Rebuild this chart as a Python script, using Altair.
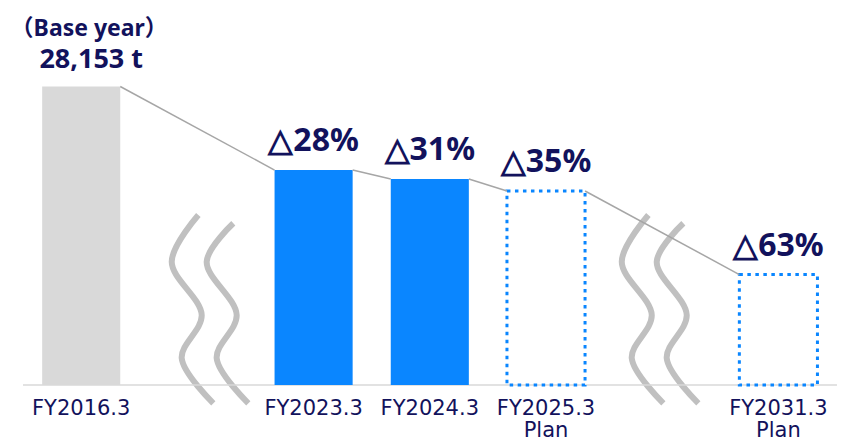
import altair as alt
import pandas as pd

# ---- data ----
categories = ["FY2016.3", "FY2023.3", "FY2024.3", "FY2025.3", "FY2031.3"]
sublabels = ["", "", "", "Plan", "Plan"]
positions = [0, 2, 3, 4, 6]            # gaps at 1 and 5 carry the break marks
emissions = [28153, 20270, 19426, 18299, 10417]
reduction_labels = ["", "△28%", "△31%", "△35%", "△63%"]
status = ["base", "actual", "actual", "plan", "plan"]

base_title = "（Base year）"
base_value = "28,153 t"

# break-mark ("≈") decoration: two wavy strands per break
break_positions = [1.0, 4.873]
strand_offsets = [0.0, 0.301]
strand_top = [16033, 15250]
squiggle_dx = [0.008, -0.221, 0.037, -0.135, 0.137]
squiggle_y = [16033, 11628, 6602, 2518, -1726]

HALF = 0.336
NAVY = "#12125c"
BLUE = "#0a86ff"
GRAY_BAR = "#d9d9d9"

bars = pd.DataFrame({
    "cat": categories, "sub": sublabels, "pos": positions,
    "v": emissions, "lab": reduction_labels, "status": status,
})
bars["x0"] = bars["pos"] - HALF
bars["x1"] = bars["pos"] + HALF
bars["zero"] = 0

conn = pd.DataFrame({
    "x": [p + HALF for p in positions[:-1]],
    "x2": [p - HALF for p in positions[1:]],
    "y": emissions[:-1],
    "y2": emissions[1:],
})

sq_rows = []
for b in break_positions:
    for s, off in enumerate(strand_offsets):
        for i, (dx, yy) in enumerate(zip(squiggle_dx, squiggle_y)):
            sq_rows.append({
                "g": f"{b}-{s}", "i": i, "x": b + off + dx,
                "y": strand_top[s] if i == 0 else yy,
            })
sq = pd.DataFrame(sq_rows)

baseline_df = pd.DataFrame({"x": [-0.501], "x2": [6.504], "y": [0]})

xs = alt.Scale(domain=[-0.63, 6.5215], nice=False, zero=False)
ys = alt.Scale(domain=[-5753, 35555], nice=False, zero=False)

X = lambda f: alt.X(f, type="quantitative", scale=xs, axis=None)
Y = lambda f: alt.Y(f, type="quantitative", scale=ys, axis=None)

squiggles = alt.Chart(sq).mark_line(
    interpolate="catmull-rom", strokeWidth=6, color="#c0c0c0", strokeCap="butt"
).encode(x=X("x"), y=Y("y"), detail="g:N", order="i:Q")

baseline = alt.Chart(baseline_df).mark_rule(color="#d9d9d9", strokeWidth=1.5).encode(
    x=X("x"), x2="x2:Q", y=Y("y")
)

solid = alt.Chart(bars).transform_filter("datum.status != 'plan'").mark_rect().encode(
    x=X("x0"), x2="x1:Q", y=Y("zero"), y2="v:Q",
    color=alt.Color("status:N", scale=alt.Scale(domain=["base", "actual"], range=[GRAY_BAR, BLUE]), legend=None),
)

planned = alt.Chart(bars).transform_filter("datum.status == 'plan'").mark_rect(
    fillOpacity=0, stroke=BLUE, strokeWidth=3, strokeDash=[3.5, 4.5], strokeCap="butt"
).encode(x=X("x0"), x2="x1:Q", y=Y("zero"), y2="v:Q")

connectors = alt.Chart(conn).mark_rule(color="#a6a6a6", strokeWidth=1.5).encode(
    x=X("x"), x2="x2:Q", y=Y("y"), y2="y2:Q"
)

red_text = alt.Chart(bars).transform_filter("datum.lab != ''").mark_text(
    font="Noto Sans", fontSize=32, fontWeight="bold", color=NAVY,
    baseline="alphabetic", dy=-19,
).encode(x=X("pos"), y=Y("v"), text="lab:N")

base_df = bars[bars["status"] == "base"].copy()
base_df["t1"] = base_title
base_df["t2"] = base_value

base_t1 = alt.Chart(base_df).mark_text(
    font="Noto Sans, Noto Sans CJK JP", fontSize=23, fontWeight="bold", color=NAVY,
    baseline="alphabetic", dy=-50, dx=8,
).encode(x=X("pos"), y=Y("v"), text="t1:N")

base_t2 = alt.Chart(base_df).mark_text(
    font="Noto Sans", fontSize=27, fontWeight="bold", color=NAVY,
    baseline="alphabetic", dy=-18, dx=10,
).encode(x=X("pos"), y=Y("v"), text="t2:N")

xlab = alt.Chart(bars).mark_text(
    font="DejaVu Sans", fontSize=21, color=NAVY, baseline="alphabetic", dy=30,
).encode(x=X("pos"), y=Y("zero"), text="cat:N")

xsub = alt.Chart(bars).transform_filter("datum.sub != ''").mark_text(
    font="DejaVu Sans", fontSize=21, color=NAVY, baseline="alphabetic", dy=52,
).encode(x=X("pos"), y=Y("zero"), text="sub:N")

chart = alt.layer(
    squiggles, baseline, solid, planned, connectors, red_text, base_t1, base_t2, xlab, xsub
).properties(
    width=831, height=438, padding=0,
    autosize=alt.AutoSizeParams(type="none"), background="white",
).configure_view(stroke=None)

chart.save("out.html", embed_options={"renderer": "svg", "actions": False})
